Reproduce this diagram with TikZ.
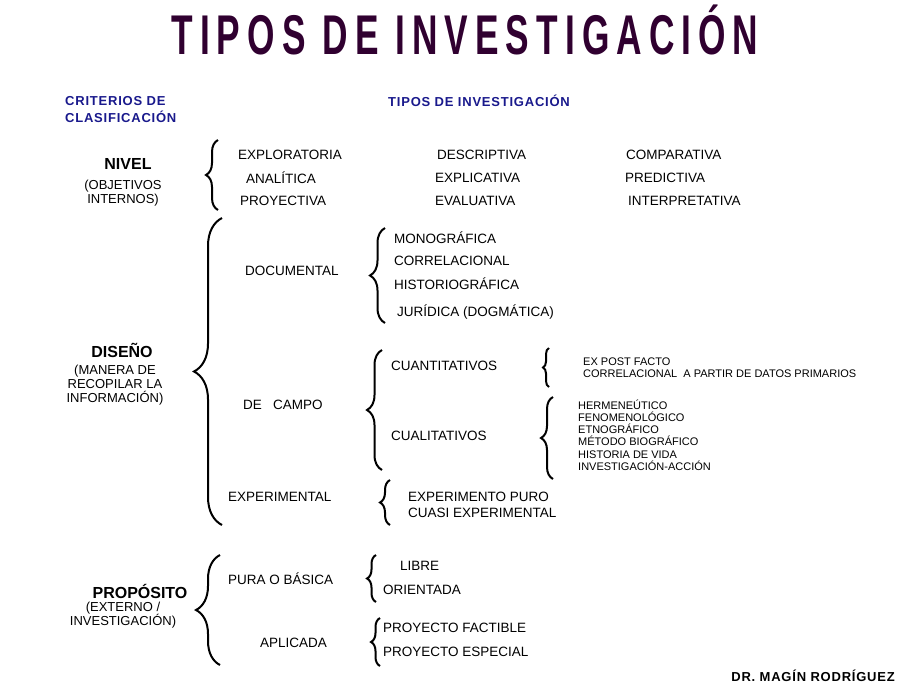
\documentclass[tikz,border=0pt]{standalone}
\usepackage{fontspec}
\setmainfont{Liberation Sans}
\usetikzlibrary{decorations.pathreplacing}
\definecolor{ttl}{RGB}{48,0,48}
\definecolor{navy}{RGB}{25,25,140}
\tikzset{
  t/.style={anchor=west,inner sep=0pt,font=\fontsize{13.5}{14}\selectfont},
  sm/.style={anchor=west,inner sep=0pt,align=left,font=\fontsize{11}{12}\selectfont},
  hd/.style={inner sep=0pt,font=\fontsize{16}{17}\bfseries\selectfont},
  sub/.style={inner sep=0pt,align=center,font=\fontsize{13}{14}\selectfont},
  nv/.style={inner sep=0pt,align=left,text=navy,font=\fontsize{13}{17}\bfseries\addfontfeature{LetterSpace=6}\selectfont},
  br/.style={line width=2pt,decorate,decoration={brace,amplitude=#1}},
  br/.default=10pt
}
\begin{document}
\begin{tikzpicture}[x=1pt,y=-1pt]
\useasboundingbox (0,0) rectangle (916,689);
\node[inner sep=0pt,text=ttl] (title) at (465,30) {\scalebox{0.63}[1]{\fontsize{56}{56}\bfseries\addfontfeature{LetterSpace=20}\selectfont TIPOS DE INVESTIGACIÓN}};
\node[nv,anchor=west] (crit) at (65,110) {CRITERIOS DE\\CLASIFICACIÓN};
\node[nv,anchor=west] (tipos) at (388,101) {TIPOS DE INVESTIGACIÓN};
% NIVEL
\node[hd] (nivel) at (128,164) {NIVEL};
\node[sub] (nivels) at (123,193) {(OBJETIVOS\\INTERNOS)};
\draw[br=12pt] (218,210) -- (218,140);
\node[t] (n1) at (238,155) {EXPLORATORIA};
\node[t] (n2) at (437,155) {DESCRIPTIVA};
\node[t] (n3) at (626,155) {COMPARATIVA};
\node[t] (n4) at (246,178) {ANALÍTICA};
\node[t] (n5) at (435,178) {EXPLICATIVA};
\node[t] (n6) at (625,178) {PREDICTIVA};
\node[t] (n7) at (240,201) {PROYECTIVA};
\node[t] (n8) at (435,201) {EVALUATIVA};
\node[t] (n9) at (628,201) {INTERPRETATIVA};
% DISEÑO
\node[hd] (dis) at (122,350) {DISEÑO};
\node[sub] (diss) at (115,385) {(MANERA DE\\RECOPILAR LA\\INFORMACIÓN)};
\draw[br=28pt] (222,525) -- (222,218);
\node[t] (doc) at (245,271) {DOCUMENTAL};
\draw[br=15pt] (385,323) -- (385,228);
\node[t] (d1) at (394,238) {MONOGRÁFICA};
\node[t] (d2) at (394,261) {CORRELACIONAL};
\node[t] (d3) at (394,284) {HISTORIOGRÁFICA};
\node[t] (d4) at (397,312) {JURÍDICA (DOGMÁTICA)};
\node[t] (camp) at (243,405) {DE\ \ \ CAMPO};
\draw[br=15pt] (382,470) -- (382,350);
\node[t] (cuan) at (391,366) {CUANTITATIVOS};
\draw[br=6pt] (549,387) -- (549,348);
\node[sm] (cuanl) at (583,368) {EX POST FACTO\\CORRELACIONAL\ \ A PARTIR DE DATOS PRIMARIOS};
\node[t] (cual) at (391,436) {CUALITATIVOS};
\draw[br=12pt] (553,479) -- (553,397);
\node[sm,font=\fontsize{11}{12.2}\selectfont] (cuall) at (578,435) {HERMENEÚTICO\\FENOMENOLÓGICO\\ETNOGRÁFICO\\MÉTODO BIOGRÁFICO\\HISTORIA DE VIDA\\INVESTIGACIÓN-ACCIÓN};
\node[t] (exp) at (228,497) {EXPERIMENTAL};
\draw[br=10pt] (390,525) -- (390,480);
\node[sm,font=\fontsize{13.5}{16}\selectfont] (expl) at (408,505) {EXPERIMENTO PURO\\CUASI EXPERIMENTAL};
% PROPOSITO
\node[hd] (prop) at (140,591) {PROPÓSITO};
\node[sub] (props) at (123,615) {(EXTERNO /\\INVESTIGACIÓN)};
\draw[br=24pt] (220,665) -- (220,555);
\node[t] (pura) at (228,579) {PURA O BÁSICA};
\draw[br=9pt] (376,602) -- (376,555);
\node[t] (p1) at (400,566) {LIBRE};
\node[t] (p2) at (383,590) {ORIENTADA};
\node[t] (apl) at (260,643) {APLICADA};
\draw[br=9pt] (380,666) -- (380,618);
\node[t] (p3) at (383,628) {PROYECTO FACTIBLE};
\node[t] (p4) at (383,652) {PROYECTO ESPECIAL};
\node[hd,anchor=east,font=\fontsize{13}{14}\bfseries\addfontfeature{LetterSpace=6}\selectfont] (dr) at (895,676) {DR. MAGÍN RODRÍGUEZ};
\end{tikzpicture}
\end{document}
